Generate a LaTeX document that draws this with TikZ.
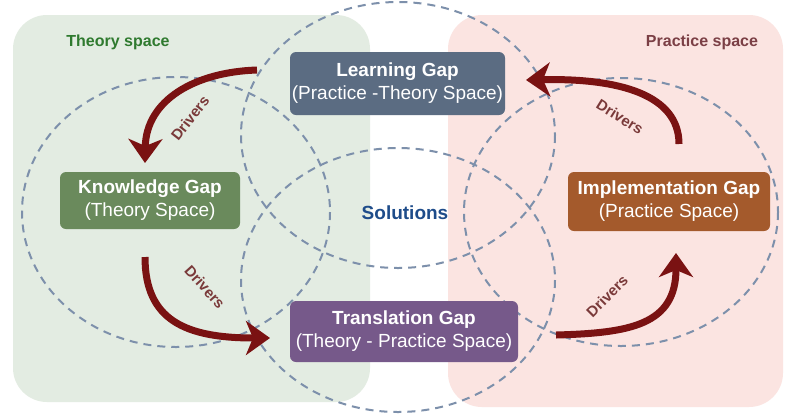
\documentclass[tikz,border=0pt]{standalone}
\usepackage{fontspec}
\setmainfont{Liberation Sans}
\usetikzlibrary{arrows.meta}
\definecolor{theorybg}{HTML}{E3ECE2}
\definecolor{practicebg}{HTML}{FBE4E1}
\definecolor{zonecol}{HTML}{7D90AB}
\definecolor{learncol}{HTML}{5B6C82}
\definecolor{knowcol}{HTML}{6A8A5C}
\definecolor{implcol}{HTML}{A45A2C}
\definecolor{transcol}{HTML}{76598A}
\definecolor{driverred}{HTML}{7A1212}
\definecolor{labelcol}{HTML}{7A3A3A}
\definecolor{theorytxt}{HTML}{2F7A2F}
\definecolor{practicetxt}{HTML}{7B3F45}
\definecolor{solcol}{HTML}{1E4C8A}
\begin{document}
\begin{tikzpicture}[x=0.5pt,y=-0.5pt,
  region/.style={rounded corners=17pt},
  zone/.style={draw=zonecol, line width=1pt, dash pattern=on 4pt off 3pt},
  gapbox/.style={rounded corners=3pt, text=white, align=center, inner sep=0pt,
    font=\fontsize{9.5}{11.5}\selectfont},
  driver/.style={draw=driverred, line width=3.5pt,
    -{Stealth[length=12pt,width=17pt,inset=3.5pt]}},
  driverlabel/.style={text=labelcol, font=\bfseries\fontsize{7.5}{9}\selectfont},
  spacelabel/.style={font=\bfseries\fontsize{8}{9}\selectfont},
]
\useasboundingbox (0,0) rectangle (787,414);
\fill[white] (0,0) rectangle (787,414);

% the two spaces
\fill[theorybg, region] (13,15) rectangle (370,402);
\fill[practicebg, region] (448,15) rectangle (783,407);
\node[spacelabel, text=theorytxt] (theory) at (118,42) {Theory space};
\node[spacelabel, text=practicetxt] (practice) at (702,42) {Practice space};

% overlapping gap zones
\draw[zone] (398,135) ellipse [x radius=157, y radius=133];
\draw[zone] (176,212) ellipse [x radius=154, y radius=135];
\draw[zone] (398,280) ellipse [x radius=157, y radius=132];
\draw[zone] (621,212) ellipse [x radius=157, y radius=134];

\node[text=solcol, font=\bfseries\fontsize{9.5}{11}\selectfont] (sol) at (405,213) {Solutions};

% gap boxes
\node[gapbox, fill=learncol, minimum width=107.5pt, minimum height=31.5pt]
  (learn) at (397.5,83.5) {\textbf{Learning Gap}\\(Practice -Theory Space)};
\node[gapbox, fill=knowcol, minimum width=90pt, minimum height=28.5pt]
  (know) at (150,200.5) {\textbf{Knowledge Gap}\\(Theory Space)};
\node[gapbox, fill=implcol, minimum width=101pt, minimum height=29.5pt]
  (impl) at (669,201.5) {\textbf{Implementation Gap}\\(Practice Space)};
\node[gapbox, fill=transcol, minimum width=114pt, minimum height=30.5pt]
  (trans) at (404,331.5) {\textbf{Translation Gap}\\(Theory - Practice Space)};

% driver arrows
\coordinate (d1s) at (257,70);  \coordinate (d1e) at (145,163);
\coordinate (d2s) at (145,257); \coordinate (d2e) at (270,338);
\coordinate (d3s) at (556,335); \coordinate (d3e) at (676,253);
\coordinate (d4s) at (679,144); \coordinate (d4e) at (526,80);
\draw[driver] (d1s) .. controls (195,72) and (146,100) .. (d1e);
\draw[driver] (d2s) .. controls (145,320) and (185,338) .. (d2e);
\draw[driver] (d3s) .. controls (630,333) and (676,325) .. (d3e);
\draw[driver] (d4s) .. controls (679,95) and (620,78) .. (d4e);

\node[driverlabel, rotate=52] (lab1) at (190,118) {Drivers};
\node[driverlabel, rotate=-48] (lab2) at (205,287) {Drivers};
\node[driverlabel, rotate=45] (lab3) at (607,296) {Drivers};
\node[driverlabel, rotate=-32] (lab4) at (620,117) {Drivers};
\end{tikzpicture}
\end{document}
